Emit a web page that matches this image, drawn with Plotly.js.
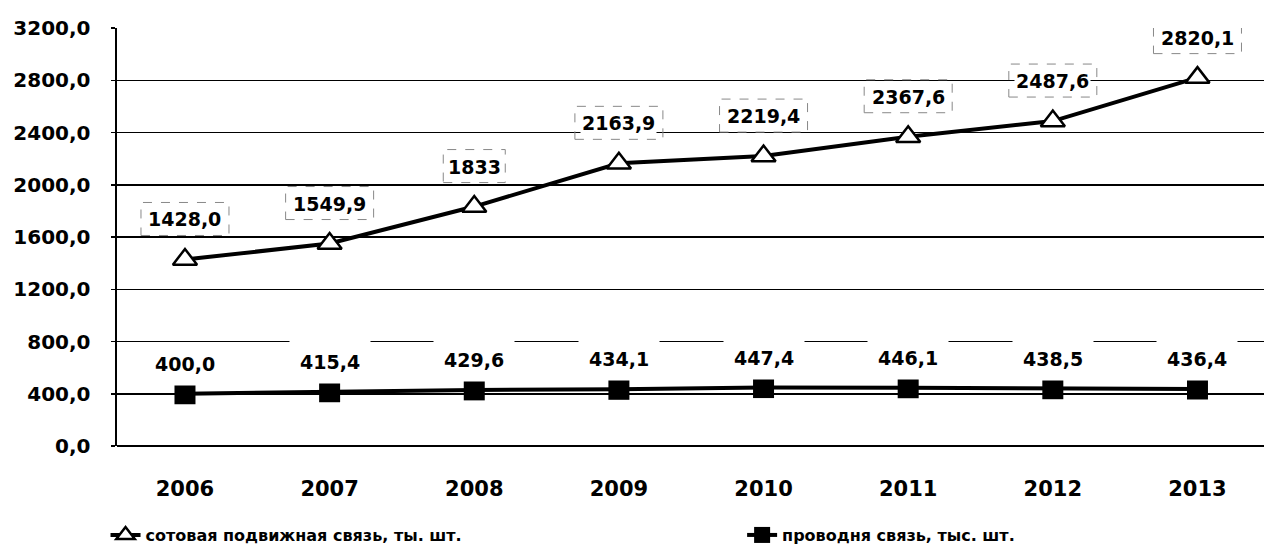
<!DOCTYPE html>
<html>
<head>
<meta charset="utf-8">
<script src="https://cdn.plot.ly/plotly-3.0.1.min.js"></script>
<style>html,body{margin:0;padding:0;background:#fff;}#chart{width:1264px;height:554px;}</style>
</head>
<body>
<div id="chart"></div>
<script>
const years = ['2006','2007','2008','2009','2010','2011','2012','2013'];
const cellular = [1428.0, 1549.9, 1833, 2163.9, 2219.4, 2367.6, 2487.6, 2820.1];
const cellularLabels = ['1428,0','1549,9','1833','2163,9','2219,4','2367,6','2487,6','2820,1'];
const wired = [400.0, 415.4, 429.6, 434.1, 447.4, 446.1, 438.5, 436.4];
const wiredLabels = ['400,0','415,4','429,6','434,1','447,4','446,1','438,5','436,4'];
const yTickVals = [0, 400, 800, 1200, 1600, 2000, 2400, 2800, 3200];
const yTickText = ['0,0','400,0','800,0','1200,0','1600,0','2000,0','2400,0','2800,0','3200,0'];
const seriesNames = ['сотовая подвижная связь, ты. шт.', 'проводня связь, тыс. шт.'];

const FONT = 'DejaVu Sans, Arial, sans-serif';
const labelFont = {family: FONT, size: 19, color: '#000', weight: 'bold'};
const legendFont = {family: FONT, size: 16, color: '#000', weight: 'bold'};

const traces = [
  {
    x: years, y: cellular, name: seriesNames[0], type: 'scatter', mode: 'lines+markers',
    line: {color: '#000', width: 4},
    marker: {symbol: 'triangle-up', size: 21, color: '#fff', line: {color: '#000', width: 2.5}},
    cliponaxis: false, legend: 'legend'
  },
  {
    x: years, y: wired, name: seriesNames[1], type: 'scatter', mode: 'lines+markers',
    line: {color: '#000', width: 4},
    marker: {symbol: 'square', size: 21, color: '#000', line: {color: '#000', width: 0}},
    cliponaxis: false, legend: 'legend2'
  }
];

const annotations = [];
const shapes = [];
years.forEach((yr, i) => {
  annotations.push({
    x: i, y: cellular[i], xref: 'x', yref: 'y', text: cellularLabels[i],
    showarrow: false, yshift: 40, font: labelFont, bgcolor: '#fff', borderpad: 1
  });
  const hw = cellularLabels[i].length * 6.5 + 5;
  shapes.push({
    type: 'rect', xref: 'x', yref: 'y', xsizemode: 'pixel', ysizemode: 'pixel',
    xanchor: i, yanchor: cellular[i], x0: -hw, x1: hw, y0: 24, y1: 57,
    line: {color: '#888', width: 1, dash: 'dash'}, layer: 'above'
  });
  annotations.push({
    x: i, y: wired[i], xref: 'x', yref: 'y', text: wiredLabels[i],
    showarrow: false, yshift: 30, yanchor: 'middle', font: labelFont, bgcolor: '#fff', borderpad: 10
  });
});

const layout = {
  width: 1264, height: 554,
  margin: {l: 117, r: 0, t: 28, b: 108},
  paper_bgcolor: '#fff', plot_bgcolor: '#fff',
  showlegend: true,
  legend: {
    orientation: 'h', x: -0.01, xanchor: 'left', y: -0.213, yanchor: 'middle',
    font: legendFont, itemwidth: 30, bgcolor: 'rgba(0,0,0,0)'
  },
  legend2: {
    orientation: 'h', x: 0.545, xanchor: 'left', y: -0.213, yanchor: 'middle',
    font: legendFont, itemwidth: 30, bgcolor: 'rgba(0,0,0,0)'
  },
  xaxis: {
    type: 'category', range: [-0.47, 7.46], showgrid: false, showline: false, zeroline: false,
    ticks: '', tickfont: {family: FONT, size: 21, color: '#000', weight: 'bold'},
    ticklabelstandoff: 28, fixedrange: true
  },
  yaxis: {
    range: [0, 3200], tickvals: yTickVals, ticktext: yTickText,
    showgrid: true, gridcolor: '#000', gridwidth: 1.5,
    zeroline: true, zerolinecolor: '#000', zerolinewidth: 2.5,
    showline: true, linecolor: '#000', linewidth: 2.5,
    ticks: 'outside', ticklen: 4, tickcolor: '#000', tickwidth: 1.5,
    tickfont: {family: FONT, size: 20, color: '#000', weight: 'bold'},
    ticklabelstandoff: 16, fixedrange: true
  },
  annotations: annotations,
  shapes: shapes
};

Plotly.newPlot('chart', traces, layout, {displayModeBar: false, staticPlot: true});
</script>
</body>
</html>
